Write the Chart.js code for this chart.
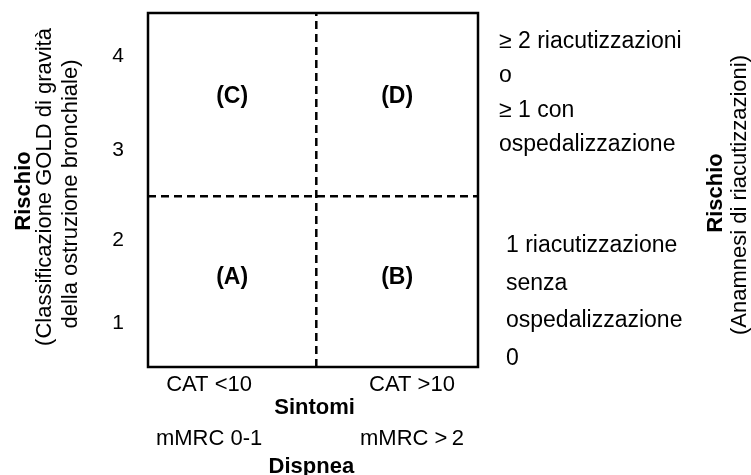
<!DOCTYPE html>
<html lang="it">
<head>
    <meta charset="UTF-8">
    <title>Classificazione GOLD</title>
    <script src="https://cdn.jsdelivr.net/npm/chart.js"></script>
    <style>
        body {
            margin: 0;
            background: #fff;
        }
        #chart {
            display: block;
        }
    </style>
</head>
<body>
<canvas id="chart" width="751" height="475"></canvas>

<script>
    // quadrant labels and where they sit on the scales
    const quadrants = ['(A)', '(B)', '(C)', '(D)'];
    const quadX = [0.51, 1.51, 0.51, 1.51];
    const quadY = [1.01, 1.01, 3.06, 3.06];

    // divider lines
    const xDivider = 1.02;
    const yDivider = 1.93;

    // left axis ticks (GOLD 1-4)
    const yTickLabels = ['1', '2', '3', '4'];
    const yTickValues = [0.5, 1.435, 2.45, 3.51];

    // bottom labels
    const xTickValues = [0.37, 1.6];
    const catLabels = ['CAT <10', 'CAT >10'];
    const mmrcLabels = ['mMRC 0-1', 'mMRC >\u20092'];

    // right side text
    const riskHigh = ['\u2265 2 riacutizzazioni', 'o', '\u2265 1 con', 'ospedalizzazione'];
    const riskLow = ['1 riacutizzazione', 'senza', 'ospedalizzazione', '0'];

    const FONT = "'Liberation Sans', Arial, sans-serif";

    function vText(ctx, text, x, y, font) {
        ctx.save();
        ctx.translate(x, y);
        ctx.rotate(-Math.PI / 2);
        ctx.font = font;
        ctx.textAlign = 'center';
        ctx.textBaseline = 'alphabetic';
        ctx.fillText(text, 0, 0);
        ctx.restore();
    }

    const textPlugin = {
        id: 'goldText',
        afterDatasetsDraw(chart) {
            const ctx = chart.ctx;
            const area = chart.chartArea;
            const xs = chart.scales.x;
            const ys = chart.scales.y;
            ctx.save();
            ctx.fillStyle = '#000';

            // box
            ctx.strokeStyle = '#000';
            ctx.lineWidth = 2.5;
            ctx.strokeRect(area.left, area.top, area.right - area.left, area.bottom - area.top);

            // quadrant letters from the label dataset points
            const meta = chart.getDatasetMeta(2);
            ctx.font = 'bold 23px ' + FONT;
            ctx.textAlign = 'center';
            ctx.textBaseline = 'middle';
            meta.data.forEach((pt, i) => {
                ctx.fillText(quadrants[i], pt.x, pt.y);
            });

            // y ticks
            ctx.font = '21px ' + FONT;
            yTickValues.forEach((v, i) => {
                ctx.fillText(yTickLabels[i], area.left - 30, ys.getPixelForValue(v));
            });

            // bottom labels
            ctx.textBaseline = 'alphabetic';
            ctx.font = '22px ' + FONT;
            xTickValues.forEach((v, i) => {
                ctx.fillText(catLabels[i], xs.getPixelForValue(v), area.bottom + 24);
                ctx.fillText(mmrcLabels[i], xs.getPixelForValue(v), area.bottom + 78);
            });
            ctx.font = 'bold 22px ' + FONT;
            ctx.fillText('Sintomi', xs.getPixelForValue(1.01), area.bottom + 47);
            ctx.fillText('Dispnea', xs.getPixelForValue(0.99), area.bottom + 106);

            // right text blocks
            ctx.font = '23px ' + FONT;
            ctx.textAlign = 'left';
            const hi = [48, 82, 117, 151];
            riskHigh.forEach((t, i) => ctx.fillText(t, area.right + 21, hi[i]));
            const lo = [252, 290, 327, 365];
            riskLow.forEach((t, i) => ctx.fillText(t, area.right + 28, lo[i]));

            // axis titles
            vText(ctx, 'Rischio', 30, 191, 'bold 22px ' + FONT);
            vText(ctx, '(Classificazione GOLD di gravit\u00e0', 50.5, 187, '22px ' + FONT);
            vText(ctx, 'della ostruzione bronchiale)', 76.5, 194, '22px ' + FONT);
            vText(ctx, 'Rischio', 722, 193, 'bold 22px ' + FONT);
            vText(ctx, '(Anamnesi di riacutizzazioni)', 745.5, 195, '22px ' + FONT);

            ctx.restore();
        }
    };

    new Chart(document.getElementById('chart'), {
        type: 'scatter',
        data: {
            datasets: [
                {
                    data: [{ x: xDivider, y: 0 }, { x: xDivider, y: 4 }],
                    showLine: true,
                    borderColor: '#000',
                    borderWidth: 2.5,
                    borderDash: [8, 5],
                    pointRadius: 0
                },
                {
                    data: [{ x: 0, y: yDivider }, { x: 2, y: yDivider }],
                    showLine: true,
                    borderColor: '#000',
                    borderWidth: 2.5,
                    borderDash: [8, 5],
                    pointRadius: 0
                },
                {
                    data: quadX.map((x, i) => ({ x: x, y: quadY[i] })),
                    pointRadius: 0,
                    showLine: false
                }
            ]
        },
        options: {
            responsive: false,
            devicePixelRatio: 1,
            animation: false,
            layout: {
                padding: { left: 148, right: 273, top: 13, bottom: 108 }
            },
            scales: {
                x: { type: 'linear', min: 0, max: 2, display: false },
                y: { type: 'linear', min: 0, max: 4, display: false }
            },
            plugins: {
                legend: { display: false },
                tooltip: { enabled: false }
            }
        },
        plugins: [textPlugin]
    });
</script>
</body>
</html>
